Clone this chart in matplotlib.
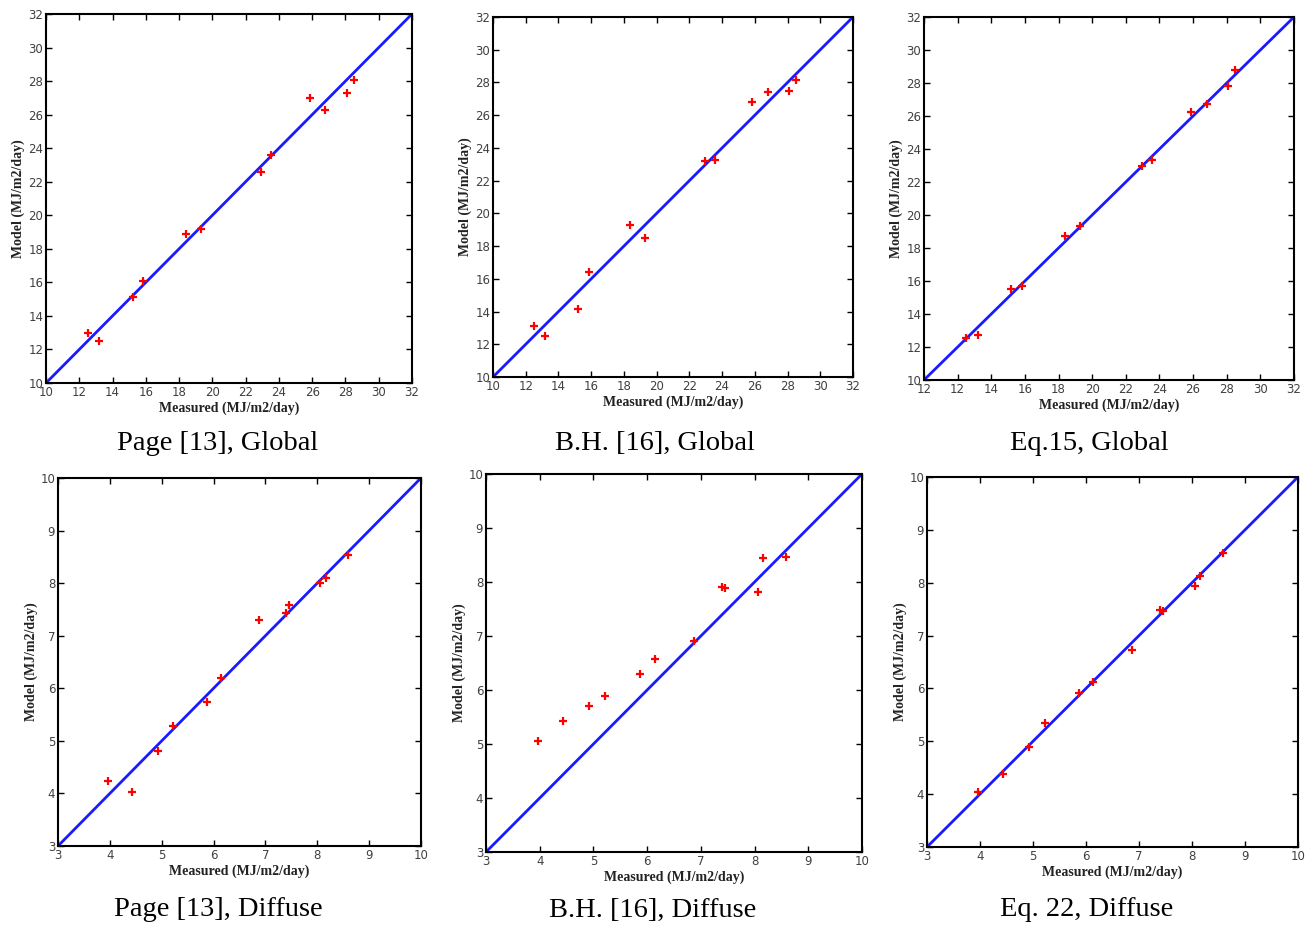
import matplotlib
matplotlib.use('Agg')
import matplotlib.pyplot as plt
import numpy as np

# Valores medidos (iguales para los tres modelos)
medido_global = [12.5, 13.2, 15.2, 15.85, 18.4, 19.3, 22.95, 23.55, 25.85, 26.8, 28.1, 28.5]
medido_difusa = [3.97, 4.43, 4.92, 5.22, 5.87, 6.14, 6.87, 7.40, 7.45, 8.06, 8.16, 8.59]

# Valores del modelo
page_global = [12.98, 12.52, 15.10, 16.10, 18.90, 19.17, 22.59, 23.60, 26.98, 26.30, 27.30, 28.05]
bh_global = [13.14, 12.53, 14.15, 16.39, 19.29, 18.49, 23.22, 23.26, 26.82, 27.41, 27.47, 28.15]
eq15_global = [12.55, 12.75, 15.54, 15.70, 18.70, 19.32, 23.00, 23.35, 26.24, 26.72, 27.84, 28.79]

page_difusa = [4.23, 4.02, 4.80, 5.28, 5.73, 6.20, 7.30, 7.44, 7.59, 8.01, 8.10, 8.54]
bh_difusa = [5.05, 5.42, 5.70, 5.89, 6.29, 6.57, 6.90, 7.90, 7.88, 7.81, 8.45, 8.47]
eq22_difusa = [4.04, 4.39, 4.89, 5.34, 5.91, 6.13, 6.73, 7.48, 7.47, 7.94, 8.13, 8.57]

titulos = ['Page [13], Global', 'B.H. [16], Global', 'Eq.15, Global',
           'Page [13], Diffuse', 'B.H. [16], Diffuse', 'Eq. 22, Diffuse']

ticks_global = list(range(10, 33, 2))
ticks_difusa = list(range(3, 11))
etiquetas_eq15 = ['12'] + [str(t) for t in ticks_global[1:]]

paneles = [
    (medido_global, page_global, (10, 32), ticks_global, None),
    (medido_global, bh_global, (10, 32), ticks_global, None),
    (medido_global, eq15_global, (10, 32), ticks_global, etiquetas_eq15),
    (medido_difusa, page_difusa, (3, 10), ticks_difusa, None),
    (medido_difusa, bh_difusa, (3, 10), ticks_difusa, None),
    (medido_difusa, eq22_difusa, (3, 10), ticks_difusa, None),
]

# Cajas de los ejes en pixeles (izq, arriba, der, abajo)
cajas = [(46, 14, 412, 383), (493, 17, 853, 377), (924, 17, 1294, 380),
         (58, 478, 421, 846), (486, 474, 862, 852), (927, 477, 1298, 847)]
pos_titulos = [(218, 443), (655, 443), (1089, 443), (218, 910), (653, 910), (1087, 910)]

W, H = 1309, 927
fig = plt.figure(figsize=(W / 100, H / 100), dpi=100)

for (x, y, lim, ticks, etiq), caja, titulo, (tx, ty) in zip(paneles, cajas, titulos, pos_titulos):
    l, t, r, b = caja
    ax = fig.add_axes([l / W, 1 - b / H, (r - l) / W, (b - t) / H])
    ax.plot([lim[0], lim[1]], [lim[0], lim[1]], color='#1a1aff', lw=2)
    ax.plot(x, y, '+', color='red', ms=6, mew=1.6)
    ax.set_xlim(lim)
    ax.set_ylim(lim)
    ax.set_xticks(ticks)
    ax.set_yticks(ticks)
    if etiq is not None:
        ax.set_xticklabels(etiq)
    ax.tick_params(direction='in', top=True, right=True, length=4, width=1,
                   labelsize=8.5, labelcolor='#404040', pad=2)
    for s in ax.spines.values():
        s.set_linewidth(1.5)
    ax.set_xlabel('Measured (MJ/m2/day)', family='Liberation Serif', weight='bold',
                  fontsize=10, labelpad=2, color='#222222')
    ax.set_ylabel('Model (MJ/m2/day)', family='Liberation Serif', weight='bold',
                  fontsize=10, labelpad=2, color='#222222')
    fig.text(tx / W, 1 - ty / H, titulo, family='Liberation Serif', fontsize=20.5,
             ha='center', va='center')

fig.savefig('out.png', dpi=100)
